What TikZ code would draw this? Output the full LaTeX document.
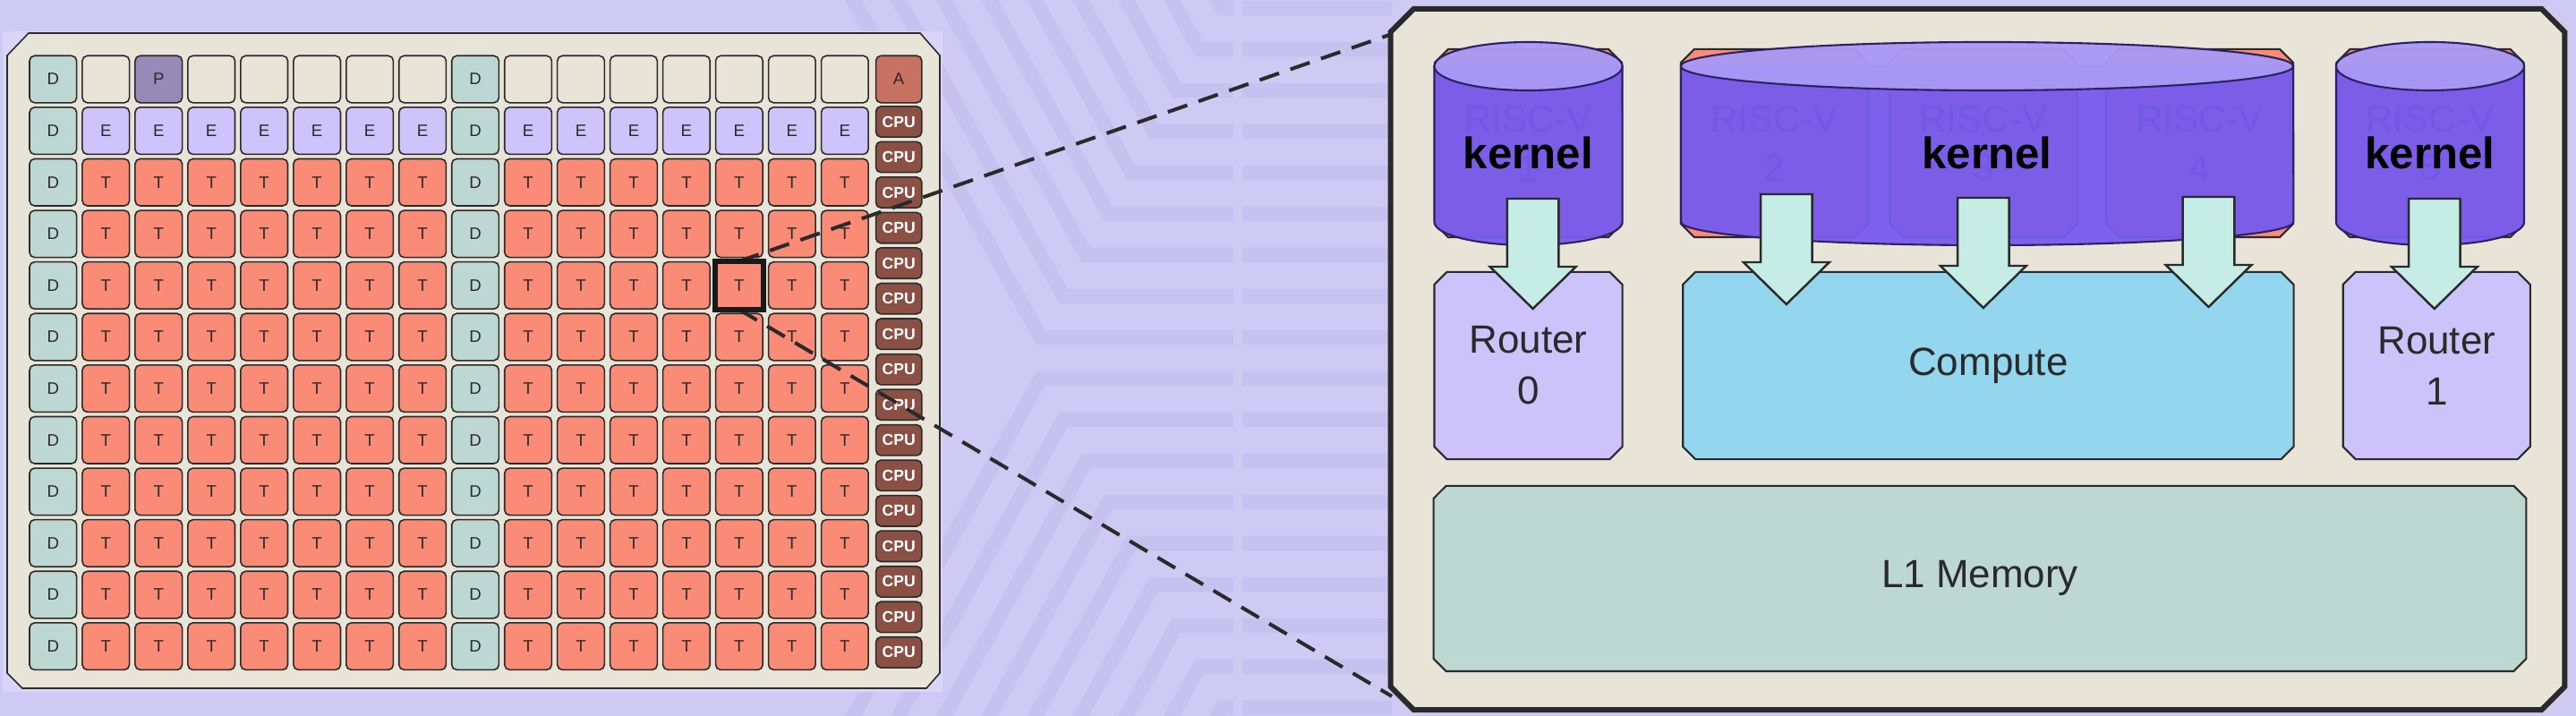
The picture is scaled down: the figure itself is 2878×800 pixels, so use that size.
\documentclass[tikz,border=0pt]{standalone}
\usepackage{fontspec}
\setmainfont{Liberation Sans}
\usetikzlibrary{positioning,shapes.misc}

\definecolor{bgpurple}{HTML}{CFCAF4}
\definecolor{bglight}{HTML}{D9D5F9}
\definecolor{bgstripe}{HTML}{C7C1EF}
\definecolor{chipbeige}{HTML}{E8E4D8}
\definecolor{dteal}{HTML}{BDD8D3}
\definecolor{epurple}{HTML}{CCC4FA}
\definecolor{tsalmon}{HTML}{FA8B76}
\definecolor{ppurple}{HTML}{968BB8}
\definecolor{abrown}{HTML}{C87262}
\definecolor{cpubrown}{HTML}{8A5044}
\definecolor{computeblue}{HTML}{94D6EE}
\definecolor{memteal}{HTML}{BDD7D1}
\definecolor{routerpurple}{HTML}{CBC3FA}
\definecolor{arrowmint}{HTML}{C5EDE6}
\definecolor{kernelbody}{HTML}{765BEE}
\definecolor{kerneltop}{HTML}{A89AF6}
\definecolor{kernelline}{HTML}{2B2263}
\definecolor{linegray}{HTML}{2A2A2A}

\tikzset{
  tilebox/.style={rectangle, rounded corners=1.6pt, draw=linegray, line width=0.45pt, inner sep=0pt, minimum width=0.526cm, minimum height=0.525cm, text=linegray, font=\fontsize{5.3}{6}\selectfont},
  cpubox/.style={tilebox, fill=cpubrown, minimum width=0.512cm, minimum height=0.343cm, text=white, font=\bfseries\fontsize{5}{6}\selectfont},
  chambox/.style n args={3}{chamfered rectangle, inner sep=0pt, text width=#1, text height=#2, text depth=0pt, chamfered rectangle xsep=#3, chamfered rectangle ysep=#3},
  unitbox/.style={draw=linegray, line width=0.6pt},
  unitlabel/.style={align=center, inner sep=0pt, text=linegray, font=\fontsize{12.5}{16.2}\selectfont},
  risclabel/.style={align=center, inner sep=0pt, text=linegray, font=\fontsize{12}{15.6}\selectfont},
  bigpanel/.style={chambox={12.85cm}{7.57cm}{0.13cm}, draw=linegray, line width=1.7pt, fill=chipbeige},
  kernelshape/.style={draw=kernelline, line width=0.6pt, fill=kernelbody, fill opacity=0.95},
  kernelcap/.style={draw=kernelline, line width=0.6pt, fill=kerneltop, fill opacity=0.96},
  kernellabel/.style={font=\bfseries\fontsize{14}{16}\selectfont, text=black, inner sep=0pt},
  blockarrow/.style={draw=linegray, line width=0.7pt, fill=arrowmint, line join=miter},
  zoomline/.style={draw=linegray, line width=1.15pt, dash pattern=on 6.5pt off 3.8pt},
}

\begin{document}
\begin{tikzpicture}[x=0.01cm, y=0.01cm]
\useasboundingbox[fill=bgpurple] (0,0) rectangle (2878,800);

% faint traces behind everything
\begin{scope}
\clip (0,0) rectangle (2878,800);
\foreach \d in {23,69,...,391} {
    \pgfmathsetmacro{\xt}{1150+0.55*\d}
    \draw[bgstripe, line width=4.6pt] (1555,400+\d) -- (\xt,400+\d) -- ++(-250,450);
    \draw[bgstripe, line width=4.6pt] (1555,400-\d) -- (\xt,400-\d) -- ++(-250,-450);
}
\draw[bgpurple, line width=3pt] (1383,0) -- (1383,800);
\end{scope}

% chip
\fill[bglight] (3,27) rectangle (1053,765);
\filldraw[draw=linegray, line width=0.45pt, fill=chipbeige] (8,738) -- (32,763) -- (1028,763) -- (1050,738) -- (1050,48) -- (1035,31) -- (25,31) -- (8,48) -- cycle;

\foreach \r in {2,...,11} {
    \foreach \c in {1,...,7,9,10,...,15} {
        \node[tilebox, fill=tsalmon] (t-\r-\c) at ({59.3+58.97*\c},{711.45-57.6*\r}) {T};
    }
}
\foreach \c in {1,...,7,9,10,...,15} {
    \node[tilebox, fill=epurple] (t-1-\c) at ({59.3+58.97*\c},{711.45-57.6}) {E};
}
\foreach \r in {0,...,11} {
    \foreach \c in {0,8} {
        \node[tilebox, fill=dteal] (t-\r-\c) at ({59.3+58.97*\c},{711.45-57.6*\r}) {D};
    }
}
\foreach \c in {1,3,4,5,6,7,9,10,...,15} {
    \node[tilebox, fill=chipbeige] (t-0-\c) at ({59.3+58.97*\c},711.45) {};
}
\node[tilebox, fill=ppurple] (t-0-2) at ({59.3+58.97*2},711.45) {P};

\node[tilebox, fill=abrown, minimum width=0.512cm] (a) at (1004.2,711.45) {A};
\foreach \k in {0,...,15} {
    \node[cpubox] (cpu-\k) at (1004.2,{664-39.53*\k}) {CPU};
}

% zoomed tile
\node[bigpanel] (tile) at (2209.5,398.5) {};
\coordinate (ztop) at (1555,762);
\coordinate (zbot) at (1555,22);
\draw[zoomline] (t-4-13.north) -- (ztop);
\draw[zoomline] (t-4-13.south) -- (zbot);
\draw[line width=1.6pt, draw=black!90] (t-4-13.west |- t-4-13.south) rectangle (t-4-13.east |- t-4-13.north);

\foreach \i/\x in {1/1707.5, 2/1982.5, 3/2216, 4/2457.5, 5/2715} {
    \node[chambox={1.94cm}{1.95cm}{0.075cm}, unitbox, fill=tsalmon, label={[risclabel]center:RISC-V\\\i}] (rv-\i) at (\x,640) {};
}

\node[chambox={1.96cm}{1.95cm}{0.07cm}, unitbox, fill=routerpurple, label={[unitlabel]center:Router\\0}] (router0) at (1707.5,391.5) {};
\node[chambox={6.68cm}{1.95cm}{0.07cm}, unitbox, fill=computeblue, label={[unitlabel]center:Compute}, right=0.655cm of router0] (compute) {};
\node[chambox={1.95cm}{1.95cm}{0.07cm}, unitbox, fill=routerpurple, label={[unitlabel]center:Router\\1}, right=0.53cm of compute] (router1) {};
\node[chambox={12.06cm}{1.93cm}{0.07cm}, unitbox, fill=memteal, label={[unitlabel]center:L1 Memory}] (l1) at (2212,153.6) {};

% kernels
\foreach \cx/\hw/\rx in {1707.5/105/1.05cm, 2220/342/3.42cm, 2715/105/1.05cm} {
    \filldraw[kernelshape] (\cx-\hw,726) -- (\cx-\hw,552) arc[start angle=180, end angle=360, x radius=\rx, y radius=0.26cm] -- (\cx+\hw,726) -- cycle;
    \filldraw[kernelcap] (\cx,726) ellipse[x radius=\rx, y radius=0.27cm];
}
\foreach \n/\cx in {1/1707.5, 2/2220, 3/2715} {
    \node[kernellabel, anchor=base] (k\n) at (\cx,611) {kernel};
}

\foreach \ax/\atop in {1712.6/578, 1995.8/583, 2215.8/579, 2467.5/580, 2719.8/578} {
    \filldraw[blockarrow] (\ax-28.8,\atop) -- (\ax+28.8,\atop) -- (\ax+28.8,\atop-76) -- (\ax+48,\atop-76) -- (\ax,\atop-123) -- (\ax-48,\atop-76) -- (\ax-28.8,\atop-76) -- cycle;
}
\end{tikzpicture}
\end{document}
